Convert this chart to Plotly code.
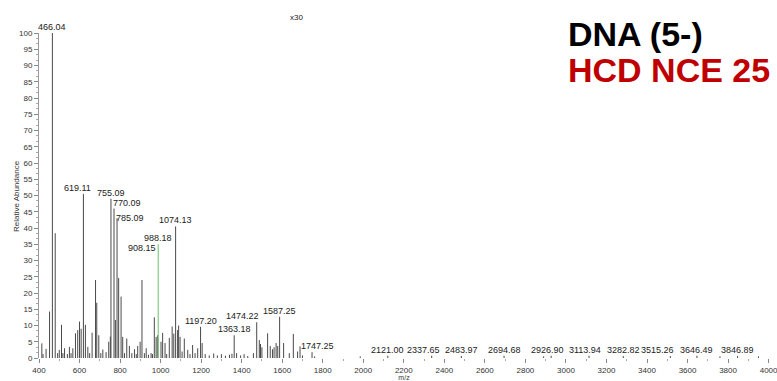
import plotly.graph_objects as go

# ---- data ----
peak_mz = [414, 420, 435, 452, 466.04, 480, 492, 500, 511, 518, 526, 540, 550, 558, 567,
           580, 591, 600, 608, 619.11, 629, 641, 650, 662, 679, 685, 695, 705, 715, 731,
           744, 752, 755.09, 770.09, 777, 785.09, 793, 805, 813, 822, 833, 846, 858, 871,
           880, 887, 899, 908.15, 920, 929, 940, 953, 960, 969, 978, 986, 1002, 1010,
           1022, 1030, 1043, 1057, 1065, 1074.13, 1084, 1089, 1096, 1106, 1117, 1134, 1145,
           1158, 1170, 1183, 1197.20, 1205, 1220, 1240, 1262, 1280, 1300, 1320, 1340, 1352,
           1363.18, 1375, 1395, 1412, 1430, 1458, 1474.22, 1487, 1493, 1500, 1528, 1541,
           1552, 1560, 1570, 1578, 1587.25, 1607, 1635, 1655, 1676, 1688, 1700, 1747.25,
           1760, 1985, 2121.00, 2337.65, 2483.97, 2694.68, 2926.90, 2890, 3113.94, 3282.82,
           3515.26, 3646.49, 3760, 3846.89, 3950]
peak_int = [4.5, 1.2, 2.8, 14.3, 100, 38.4, 1.5, 2.5, 10.2, 1.5, 3, 1.2, 3.4, 1.5, 3,
            7.6, 8.6, 11.2, 9, 50.5, 10.2, 3.4, 1.5, 7.8, 24, 17, 7, 1.5, 2.6, 1.8,
            5, 6.6, 49, 46, 11.7, 43, 24.6, 18.9, 6.5, 1.5, 6, 3.7, 1.5, 2.7,
            1.2, 3.7, 5, 24, 1.5, 3, 1, 1.5, 1.2, 12.5, 6.5, 7, 5, 7.7,
            4.6, 1.2, 6.2, 9.7, 7.5, 40.5, 8.6, 10, 6.5, 2, 6, 2.5, 1.2,
            4, 1.5, 3, 9.6, 4.6, 1.2, 0.8, 1.4, 0.8, 1.2, 0.7, 1, 1.3,
            7, 1.5, 0.8, 1.2, 0.6, 1.5, 11, 5.5, 4.3, 3.3, 7.6, 3.7,
            2.7, 3.3, 4.6, 3.7, 12.7, 4.6, 1.5, 7.4, 2, 3.6, 0.8, 1.8,
            0.5, 0.5, 0.7, 0.7, 0.6, 0.7, 0.7, 0.5, 0.7, 0.6,
            0.6, 0.7, 0.5, 0.6, 0.5]
green_mz = [988.18]
green_int = [35]

label_mz = [466.04, 619.11, 755.09, 770.09, 785.09, 908.15, 988.18, 1074.13, 1197.20,
            1363.18, 1474.22, 1587.25, 1747.25, 2121.00, 2337.65, 2483.97, 2694.68,
            2926.90, 3113.94, 3282.82, 3515.26, 3646.49, 3846.89]
label_int = [100, 50.5, 49, 46, 43, 24, 35, 40.5, 9.6, 7, 11, 12.7, 1.8, 0.7, 0.7, 0.6,
             0.7, 0.7, 0.7, 0.6, 0.6, 0.7, 0.6]

y_ticks = list(range(0, 101, 5))
x_ticks = list(range(400, 4001, 200))

# label nudges (px) for overlapping labels
label_shift = {619.11: (-6, 0), 770.09: (13, 0), 785.09: (13, -6), 908.15: (0, 26),
               1474.22: (-14, 0), 1747.25: (5, 0), 2337.65: (-8, 0), 2926.90: (-4, 0),
               3113.94: (-4, 0), 3515.26: (-13, 0)}

FONT = "Arial, Liberation Sans, sans-serif"
W, H = 777, 381
ml, mr, mt, mb = 39, 8, 33, 23
pw, ph = W - ml - mr, H - mt - mb
def px(xp): return (xp - ml) / pw
def py(yp): return (H - mb - yp) / ph

def sticks(mz, inten):
    xs, ys = [], []
    for m, i in zip(mz, inten):
        xs += [m, m, None]
        ys += [0, i, None]
    return xs, ys

fig = go.Figure()
sx, sy = sticks(peak_mz, peak_int)
fig.add_trace(go.Scatter(x=sx, y=sy, mode="lines", line=dict(color="#4a4a4a", width=1),
                         hoverinfo="skip", showlegend=False))
gx, gy = sticks(green_mz, green_int)
fig.add_trace(go.Scatter(x=gx, y=gy, mode="lines", line=dict(color="#66c266", width=1),
                         hoverinfo="skip", showlegend=False))

for m, i in zip(label_mz, label_int):
    dx, dy = label_shift.get(m, (0, 0))
    fig.add_annotation(x=m, y=i, text=f"{m:.2f}", showarrow=False, xanchor="center",
                       yanchor="bottom", xshift=dx, yshift=dy - 1,
                       font=dict(family=FONT, size=9, color="#222"))

fig.add_annotation(x=px(296), y=py(17), xref="paper", yref="paper", text="x30", showarrow=False,
                   xanchor="center", yanchor="middle",
                   font=dict(family=FONT, size=8, color="#222"))
fig.add_annotation(x=px(17), y=py(196), xref="paper", yref="paper", text="Relative Abundance",
                   showarrow=False, textangle=-90, xanchor="center", yanchor="middle",
                   font=dict(family=FONT, size=8, color="#333"))
fig.add_annotation(x=px(566), y=py(34), xref="paper", yref="paper", text="<b>DNA (5-)</b>",
                   showarrow=False, xanchor="left", yanchor="middle",
                   font=dict(family=FONT, size=34, color="#000000"))
fig.add_annotation(x=px(566), y=py(70), xref="paper", yref="paper", text="<b>HCD NCE 25</b>",
                   showarrow=False, xanchor="left", yanchor="middle",
                   font=dict(family=FONT, size=34, color="#c00000"))

fig.update_layout(
    width=W, height=H, margin=dict(l=ml, r=mr, t=mt, b=mb, autoexpand=False),
    paper_bgcolor="white", plot_bgcolor="white",
    font=dict(family=FONT, size=8, color="#333"),
)
fig.update_xaxes(range=[400, 4002], tickvals=x_ticks, ticktext=[str(v) for v in x_ticks],
                 automargin=False, ticklabeloverflow="allow",
                 showgrid=False, zeroline=False, showline=False,
                 ticks="outside", ticklen=4, tickcolor="#888", tickwidth=1,
                 minor=dict(dtick=100, tick0=400, ticklen=2, tickcolor="#aaa", ticks="outside"),
                 tickfont=dict(family=FONT, size=8, color="#333"),
                 title=dict(text="m/z", font=dict(family=FONT, size=7, color="#333"), standoff=1))
fig.update_yaxes(range=[0, 100], tickvals=y_ticks, ticktext=[str(v) for v in y_ticks],
                 automargin=False, ticklabeloverflow="allow",
                 showgrid=False, zeroline=False, showline=True, linecolor="#999", linewidth=1,
                 ticks="outside", ticklen=4, tickcolor="#888", tickwidth=1,
                 minor=dict(dtick=5/3, tick0=0, ticklen=2, tickcolor="#aaa", ticks="outside"),
                 tickfont=dict(family=FONT, size=8, color="#333"))

fig.write_html("out.html", config={"displayModeBar": False},
               post_script="document.body.style.margin='0';document.body.style.overflow='hidden';")
